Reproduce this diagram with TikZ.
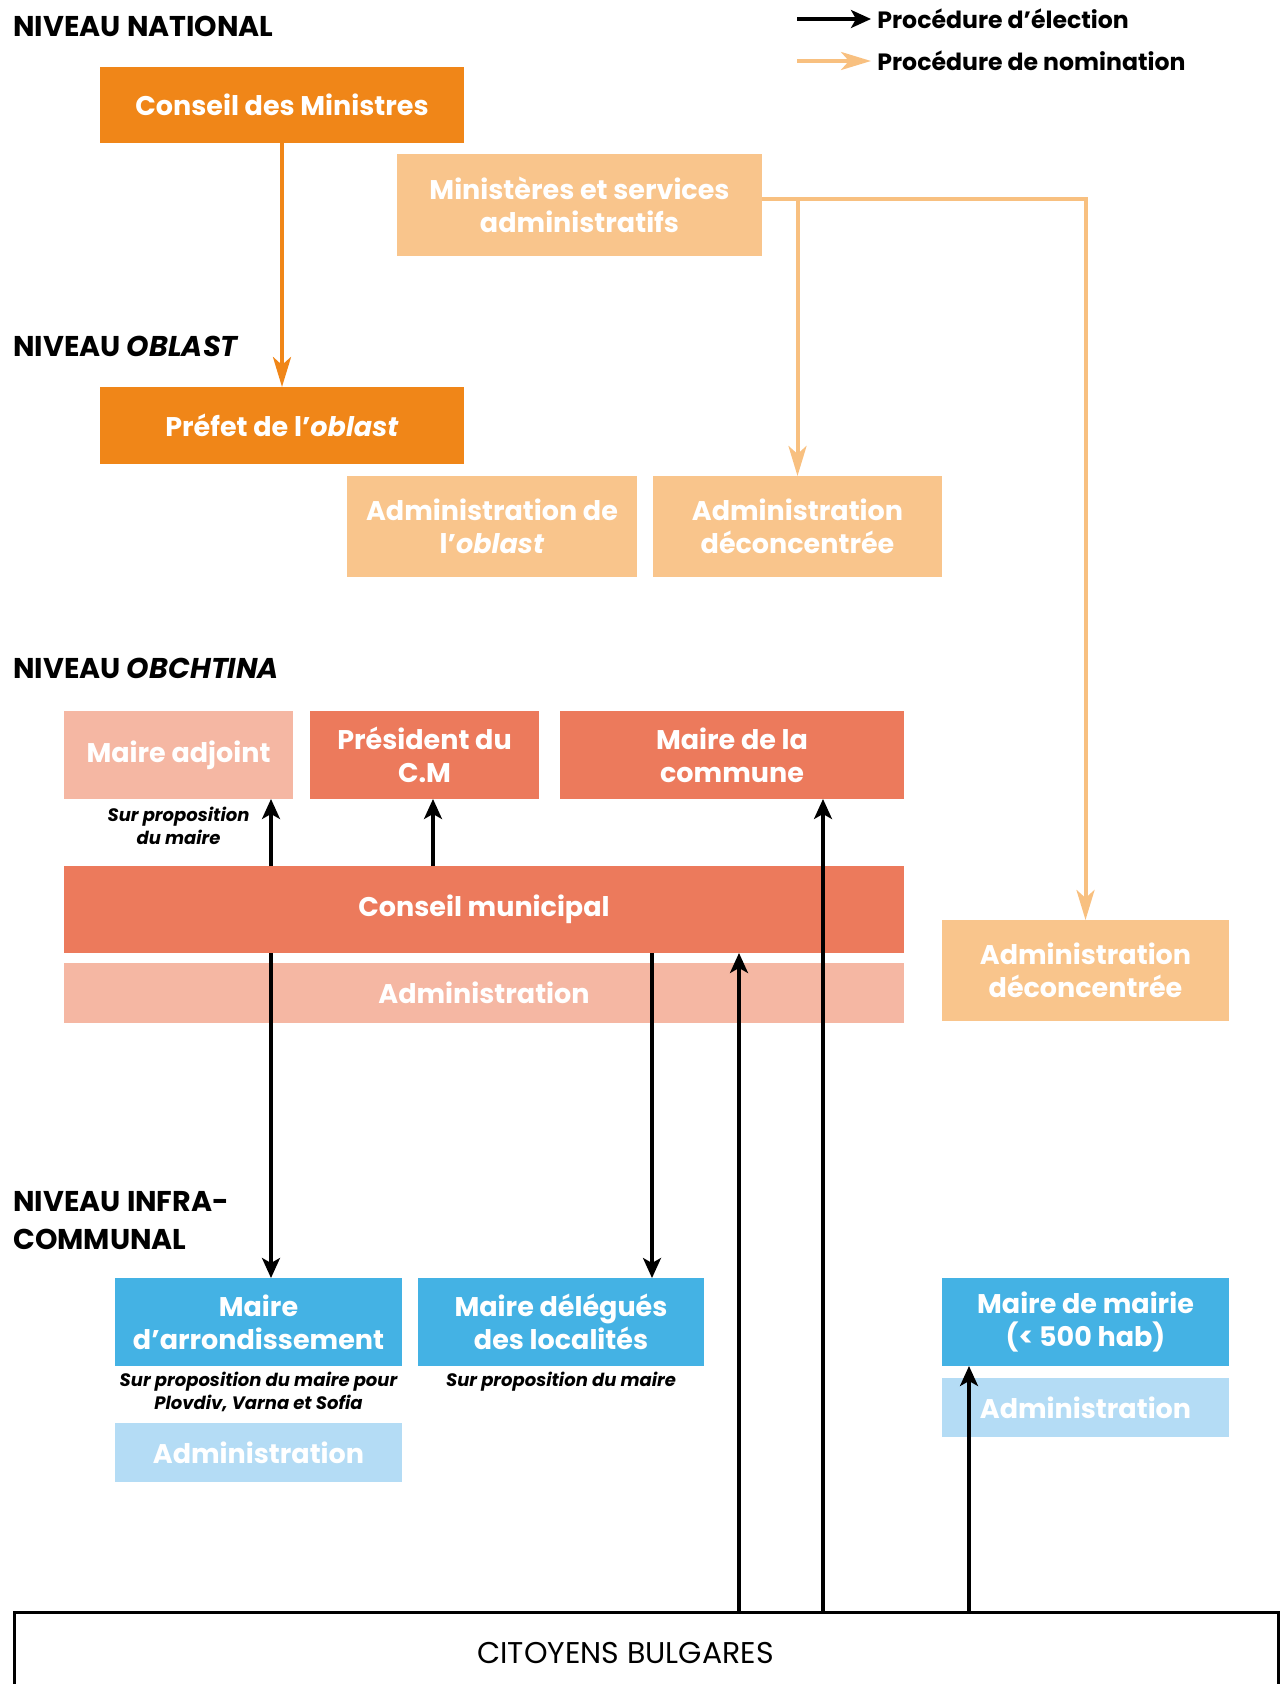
\documentclass[tikz,border=0pt]{standalone}
\usepackage{fontspec}
\setmainfont{Poppins}
\usetikzlibrary{arrows.meta,positioning}
\definecolor{orangefort}{RGB}{240,134,24}
\definecolor{orangeclair}{RGB}{249,197,140}
\definecolor{saumon}{RGB}{236,122,92}
\definecolor{saumonclair}{RGB}{245,183,163}
\definecolor{bleu}{RGB}{68,178,228}
\definecolor{bleuclair}{RGB}{180,220,245}
\definecolor{nomination}{RGB}{248,192,128}

\begin{document}
\begin{tikzpicture}[x=0.5pt,y=-0.5pt,
  box/.style={text=white,align=center,inner sep=2pt,outer sep=0pt,
    font=\bfseries\fontsize{13.5}{16.5}\selectfont},
  niveau/.style={anchor=west,align=left,inner sep=0pt,
    font=\bfseries\fontsize{14.3}{19}\selectfont},
  note/.style={align=center,inner sep=0pt,font=\bfseries\itshape\fontsize{9}{11.5}\selectfont},
  legende/.style={anchor=west,inner sep=3pt,font=\bfseries\fontsize{11.8}{13}\selectfont},
  elec/.style={-{Stealth[length=10pt,width=9pt,inset=2.5pt]},line width=1.6pt},
  nomi/.style={-{Stealth[length=15pt,width=9pt,inset=4pt]},line width=2pt,draw=nomination}]
\useasboundingbox (0,0) rectangle (1279,1684);
% niveaux
\node[niveau] (nnat) at (13,26) {NIVEAU NATIONAL};
\node[niveau] (nobl) at (13,346) {NIVEAU \textit{OBLAST}};
\node[niveau] (nobc) at (13,668) {NIVEAU \textit{OBCHTINA}};
\node[niveau] (ninf) at (13,1221) {NIVEAU INFRA-\\COMMUNAL};
% legende
\coordinate (le1) at (797,19);
\coordinate (le2) at (797,61);
\node[legende] (tle1) at (871,19) {Procédure d’élection};
\node[legende] (tle2) at (871,61) {Procédure de nomination};
\draw[elec] (le1) -- (tle1.west);
\draw[nomi] (le2) -- (tle2.west);
% national et oblast
\node[box,fill=orangefort,minimum width=182pt,minimum height=38pt] (cdm) at (282,105) {Conseil des Ministres};
\node[box,fill=orangeclair,minimum width=182.5pt,minimum height=51pt] (min) at (579.5,205) {Ministères et services\\administratifs};
\node[box,fill=orangefort,minimum width=182pt,minimum height=38.5pt] (prefet) at (282,425.5) {Préfet de l’\textit{oblast}};
\node[box,fill=orangeclair,minimum width=145pt,minimum height=50.5pt] (admobl) at (492,526.5) {Administration de\\l’\textit{oblast}};
\node[box,fill=orangeclair,minimum width=144.5pt,minimum height=50.5pt,right=8pt of admobl] (admdec1) {Administration\\déconcentrée};
% obchtina
\node[box,fill=saumonclair,minimum width=114.5pt,minimum height=44pt] (madj) at (178.5,755) {Maire adjoint};
\node[box,fill=saumon,minimum width=114.5pt,minimum height=44pt,right=8.5pt of madj] (pres) {Président du\\C.M};
\node[box,fill=saumon,minimum width=172pt,minimum height=44pt,right=10.5pt of pres] (mcom) {Maire de la\\commune};
\node[note,below=4pt of madj] (nadj) {Sur proposition\\du maire};
\node[box,fill=saumon,minimum width=420pt,minimum height=43.5pt] (cm) at (484,909.5) {Conseil municipal};
\node[box,fill=saumonclair,minimum width=420pt,minimum height=30pt,below=5pt of cm] (adm) {Administration};
\node[box,fill=orangeclair,minimum width=143.5pt,minimum height=50.5pt] (admdec2) at (1085.5,970.5) {Administration\\déconcentrée};
% infra-communal
\node[box,fill=bleu,minimum width=143.5pt,minimum height=44pt] (marr) at (258.5,1322) {Maire\\d’arrondissement};
\node[box,fill=bleu,minimum width=143pt,minimum height=44pt,right=8pt of marr] (mdel) {Maire délégués\\des localités};
\node[note,below=3pt of marr] (narr) {Sur proposition du maire pour\\Plovdiv, Varna et Sofia};
\node[note,below=3pt of mdel] (ndel) {Sur proposition du maire};
\node[box,fill=bleuclair,minimum width=143.5pt,minimum height=29.5pt,below=28.5pt of marr] (admarr) {Administration};
\node[box,fill=bleu,minimum width=143.5pt,minimum height=44pt] (mmai) at (1085.5,1322) {Maire de mairie\\(< 500 hab)};
\node[box,fill=bleuclair,minimum width=143.5pt,minimum height=29.5pt,below=6pt of mmai] (admmai) {Administration};
% citoyens
\node[draw,line width=1.5pt,minimum width=632pt,minimum height=40pt,anchor=north west,
  font=\fontsize{15}{17}\selectfont] (cit) at (13,1611) {CITOYENS BULGARES\hspace*{21pt}};
% nomination
\draw[orangefort,line width=2pt,-{Stealth[length=15pt,width=9pt,inset=4pt]}] (cdm) -- (prefet);
\draw[nomi] ([yshift=3pt]min.east) -| (admdec2.north);
\draw[nomi] ([yshift=3pt]min.east -| admdec1.north) -- (admdec1.north);
% election
\coordinate (ca) at (271,0);
\coordinate (cb) at (433,0);
\coordinate (cc) at (652,0);
\coordinate (cd) at (739,0);
\coordinate (ce) at (823,0);
\coordinate (cf) at (969,0);
\foreach \x/\a/\b in {ca/cm.north/madj.south,ca/cm.south/marr.north,cb/cm.north/pres.south,
  cc/cm.south/mdel.north,cd/cit.north/cm.south,ce/cit.north/mcom.south,cf/cit.north/mmai.south}
  \draw[elec] (\x |- \a) -- (\x |- \b);
\end{tikzpicture}
\end{document}
